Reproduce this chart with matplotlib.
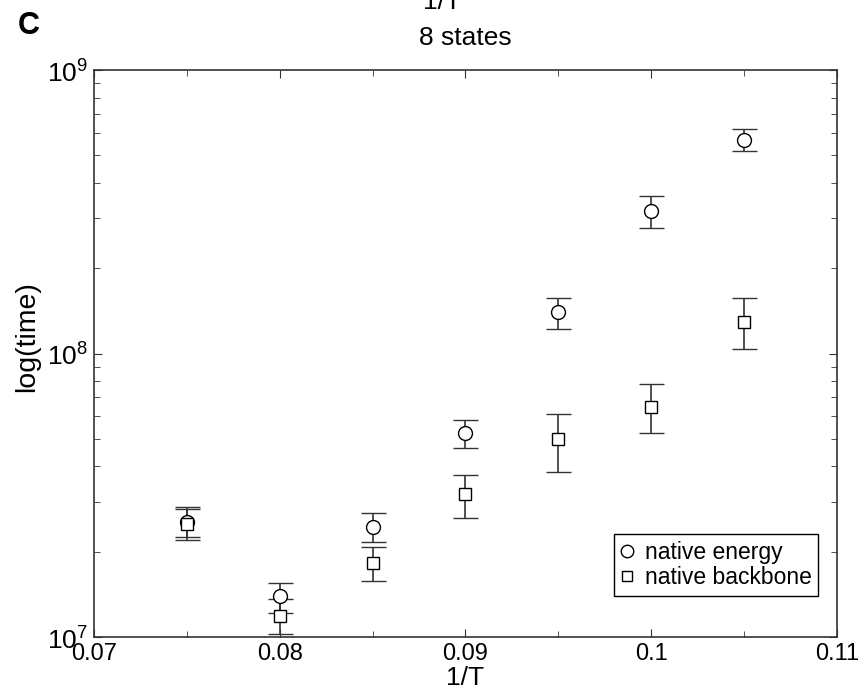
import matplotlib.pyplot as plt
from matplotlib.lines import Line2D
from matplotlib.ticker import MultipleLocator

plt.rcParams["font.family"] = ["Liberation Sans", "DejaVu Sans"]
plt.rcParams["mathtext.fontset"] = "custom"
plt.rcParams["mathtext.rm"] = "Liberation Sans"

# data
inv_T = [0.075, 0.080, 0.085, 0.090, 0.095, 0.100, 0.105]

energy = [2.55e7, 1.395e7, 2.45e7, 5.23e7, 1.40e8, 3.18e8, 5.66e8]
energy_hi = [2.88e7, 1.555e7, 2.73e7, 5.83e7, 1.573e8, 3.60e8, 6.19e8]
energy_lo = [2.25e7, 1.212e7, 2.17e7, 4.63e7, 1.22e8, 2.78e8, 5.18e8]

backbone = [2.50e7, 1.186e7, 1.82e7, 3.19e7, 4.98e7, 6.49e7, 1.295e8]
backbone_hi = [2.84e7, 1.358e7, 2.08e7, 3.73e7, 6.12e7, 7.81e7, 1.566e8]
backbone_lo = [2.20e7, 1.025e7, 1.576e7, 2.62e7, 3.83e7, 5.23e7, 1.035e8]

xticks = [0.07, 0.08, 0.09, 0.10, 0.11]
xticklabels = ["0.07", "0.08", "0.09", "0.1", "0.11"]
yticks = [1e7, 1e8, 1e9]
yticklabels = ["$10^{7}$", "$10^{8}$", "$10^{9}$"]

fig = plt.figure(figsize=(8.67, 6.93), dpi=100)
ax = fig.add_axes([0.1084, 0.0808, 0.857, 0.818])


def err(vals, lo, hi):
    return [[v - l for v, l in zip(vals, lo)], [h - v for v, h in zip(vals, hi)]]


ax.errorbar(inv_T, energy, yerr=err(energy, energy_lo, energy_hi), fmt="o",
            mfc="white", mec="black", mew=1.0, ms=10, ecolor="#333333",
            elinewidth=1.2, capsize=9, capthick=1.2, zorder=3)
ax.errorbar(inv_T, backbone, yerr=err(backbone, backbone_lo, backbone_hi), fmt="s",
            mfc="white", mec="black", mew=1.0, ms=8, ecolor="#333333",
            elinewidth=1.2, capsize=9, capthick=1.2, zorder=3)

ax.set_yscale("log")
ax.set_xlim(0.07, 0.11)
ax.set_ylim(1e7, 1e9)
ax.set_xticks(xticks)
ax.set_xticklabels(xticklabels)
ax.set_yticks(yticks)
ax.set_yticklabels(yticklabels, fontsize=19)
ax.xaxis.set_minor_locator(MultipleLocator(0.005))
ax.tick_params(which="both", direction="in", top=True, right=True, color="#333333")
ax.tick_params(axis="x", labelsize=17)
ax.tick_params(which="major", length=6, pad=4)
ax.tick_params(which="minor", length=4)
for s in ax.spines.values():
    s.set_color("#333333")
    s.set_linewidth(1.2)

ax.set_xlabel("1/T", fontsize=19, labelpad=1)
ax.set_ylabel("log(time)", fontsize=20.5)
ax.yaxis.set_label_coords(-0.072, 0.53)
ax.set_title("8 states", fontsize=19, pad=18)

handles = [
    Line2D([], [], ls="none", marker="o", ms=9, mfc="white", mec="black", mew=1.0),
    Line2D([], [], ls="none", marker="s", ms=7.5, mfc="white", mec="black", mew=1.0),
]
leg = ax.legend(handles, ["native energy", "native backbone"],
                loc="lower right", bbox_to_anchor=(0.975, 0.072), fontsize=16.5,
                frameon=True, fancybox=False, edgecolor="black", framealpha=1,
                handlelength=0.6, handletextpad=0.45, borderpad=0.3,
                labelspacing=0.12, borderaxespad=0)
leg.get_frame().set_linewidth(1.0)

fig.text(0.021, 0.962, "C", fontsize=22, fontweight="bold", ha="left", va="center")
fig.text(0.51, 0.997, "1/T", fontsize=19, ha="center", va="center")

fig.savefig("out.png", dpi=100)
